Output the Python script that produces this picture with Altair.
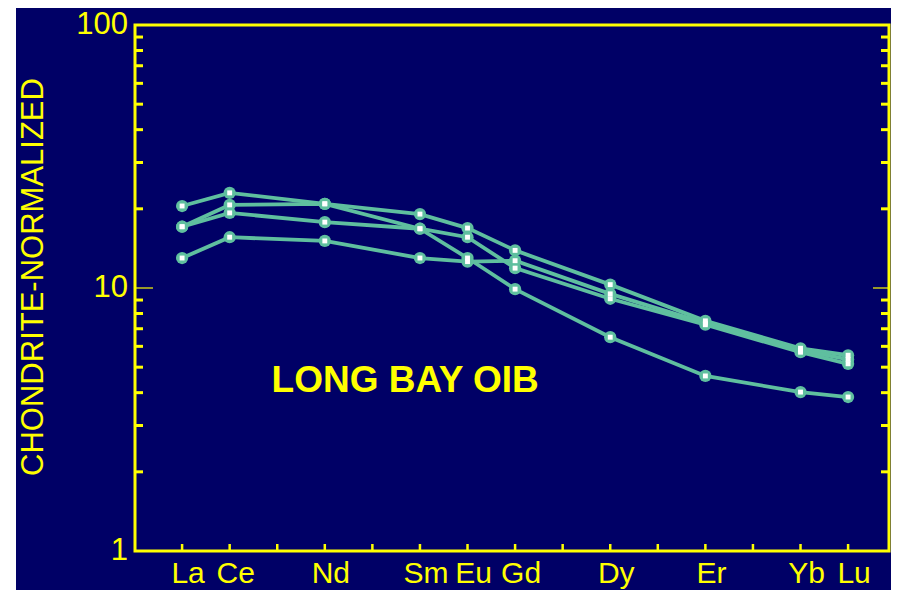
import altair as alt
import pandas as pd

FONT = "Liberation Sans"
YEL = "#ffff00"
NAVY = "#000066"
AQUA = "#5fbf9f"

# REE sequence (x positions) and the elements that were analysed
ree = ["La", "Ce", "Pr", "Nd", "Pm", "Sm", "Eu", "Gd", "Tb", "Dy", "Ho", "Er", "Tm", "Yb", "Lu"]
elements = ["La", "Ce", "Nd", "Sm", "Eu", "Gd", "Dy", "Er", "Yb", "Lu"]

# chondrite-normalised values of the four samples
sample_a = [20.5, 23.0, 20.9, 19.1, 16.9, 13.9, 10.3, 7.5, 5.9, 5.55]
sample_b = [17.1, 20.7, 20.9, 16.8, 13.0, 9.9, 6.5, 4.63, 4.02, 3.85]
sample_c = [17.1, 19.3, 17.8, 16.8, 15.6, 11.9, 9.1, 7.25, 5.7, 5.15]
sample_d = [13.0, 15.6, 15.1, 13.0, 12.6, 12.7, 9.5, 7.35, 5.8, 5.35]

# axis ticks / labels
y_labels = [1, 10, 100]
y_label_text = ["1", "10", "100"]
y_minor = [2, 3, 4, 5, 6, 7, 8, 9, 20, 30, 40, 50, 60, 70, 80, 90]
y_major_inner = [10]
y_title = ["CHONDRITE-NORMALIZED"]

annot_text = ["LONG BAY OIB"]
annot_x = [4.69]
annot_y = [4.02]

rows = []
for name, vals in [("A", sample_a), ("B", sample_b), ("C", sample_c), ("D", sample_d)]:
    for el, v in zip(elements, vals):
        rows.append({"sample": name, "element": el, "idx": ree.index(el), "value": v})
df = pd.DataFrame(rows)

W, H = 754, 526
xs = alt.Scale(domain=[-0.99, 14.86], nice=False, zero=False)
ys = alt.Scale(type="log", domain=[1, 100], nice=False)

X = lambda f="idx": alt.X(f + ":Q", scale=xs, axis=None)
Y = lambda f="value": alt.Y(f + ":Q", scale=ys, axis=None)

base = alt.Chart(df)
lines = base.mark_line(color=AQUA, strokeWidth=3.8).encode(
    x=X(), y=Y(), detail="sample:N")
outer = base.mark_point(shape="circle", filled=True, size=150, color=AQUA, opacity=1).encode(
    x=X(), y=Y())
inner = base.mark_point(shape="square", filled=True, size=24, color="white", opacity=1).encode(
    x=X(), y=Y())

minor_df = pd.DataFrame({"value": y_minor})
major_df = pd.DataFrame({"value": y_major_inner})
xt_df = pd.DataFrame({"idx": list(range(len(ree)))})

minor_left = alt.Chart(minor_df).mark_rule(color=YEL, strokeWidth=3).encode(
    y=Y(), x=alt.value(0), x2=alt.value(8))
minor_right = alt.Chart(minor_df).mark_rule(color=YEL, strokeWidth=3).encode(
    y=Y(), x=alt.value(W - 8), x2=alt.value(W))
major_left = alt.Chart(major_df).mark_rule(color=YEL, strokeWidth=1.2).encode(
    y=Y(), x=alt.value(0), x2=alt.value(18))
major_right = alt.Chart(major_df).mark_rule(color=YEL, strokeWidth=1.2).encode(
    y=Y(), x=alt.value(W - 16), x2=alt.value(W))
x_ticks = alt.Chart(xt_df).mark_rule(color=YEL, strokeWidth=2.5).encode(
    x=X(), y=alt.value(H), y2=alt.value(H - 7))

# tick labels as text placed through the scales
ylab = alt.Chart(pd.DataFrame({"value": y_labels, "t": y_label_text})).mark_text(
    font=FONT, fontSize=31, color=YEL, align="right", baseline="middle"
).encode(y=Y(), x=alt.value(-7), text="t:N")
xlab = alt.Chart(pd.DataFrame({"idx": [ree.index(e) for e in elements], "t": elements})).mark_text(
    font=FONT, fontSize=30, color=YEL, align="center", baseline="alphabetic", dx=6
).encode(x=X(), y=alt.value(H + 32), text="t:N")
ytitle = alt.Chart(pd.DataFrame({"t": y_title})).mark_text(
    font=FONT, fontSize=31, color=YEL, align="center", baseline="middle", angle=270
).encode(x=alt.value(-101), y=alt.value(252), text="t:N")

annot = alt.Chart(pd.DataFrame({"idx": annot_x, "value": annot_y, "t": annot_text})).mark_text(
    font=FONT, fontSize=37, fontWeight="bold", color=YEL, baseline="alphabetic", align="center"
).encode(x=X(), y=Y(), text="t:N")

strip = alt.Chart(pd.DataFrame({"a": [0]})).mark_rect(color="white").encode(
    x=alt.value(-127), x2=alt.value(-119), y=alt.value(-20), y2=alt.value(H + 60))

chart = alt.layer(
    lines, outer, inner, minor_left, minor_right, major_left, major_right, x_ticks,
    ylab, xlab, ytitle, annot, strip
).properties(
    width=W, height=H,
    padding={"left": 127, "top": 17, "right": 2, "bottom": 39},
    autosize=alt.AutoSizeParams(type="none"),
).configure(background=NAVY).configure_view(stroke=YEL, strokeWidth=3)

chart.save("out.html", embed_options={"renderer": "svg", "actions": False})
